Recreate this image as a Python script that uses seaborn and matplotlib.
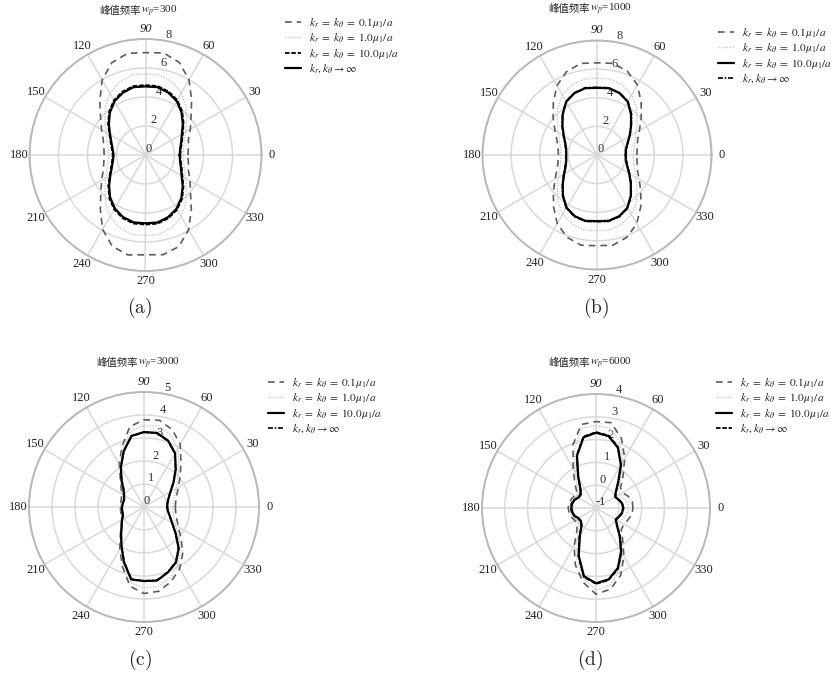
import numpy as np
import matplotlib
matplotlib.use("Agg")
import matplotlib.pyplot as plt
import seaborn as sns

# ---------------- data ----------------
angles_deg = list(range(0, 360, 10))
theta_ticks = list(range(0, 360, 30))

title_cjk = "峰值频率"
title_params = ["$w_p$=300", "$w_p$=1000", "$w_p$=3000", "$w_p$=6000"]
panel_tags = ["(a)", "(b)", "(c)", "(d)"]
series_labels = [r"$k_r\;=\;k_\theta\;=\;0.1\mu_1/a$",
                 r"$k_r\;=\;k_\theta\;=\;1.0\mu_1/a$",
                 r"$k_r\;=\;k_\theta\;=\;10.0\mu_1/a$",
                 r"$k_r, k_\theta \rightarrow \infty$"]

r_ticks_a = [0, 2, 4, 6, 8]
r_ticks_b = [0, 2, 4, 6, 8]
r_ticks_c = [0, 1, 2, 3, 4, 5]
r_ticks_d = [-1, 0, 1, 2, 3, 4]

# panel (a)  w_p = 300
a_k01 = [2.93, 3.0, 3.15, 3.57, 4.1, 4.95, 6.0, 6.8, 7.15, 7.06, 7.12, 6.78,
         5.98, 4.9, 4.05, 3.5, 3.1, 2.92, 2.85, 2.92, 3.1, 3.5, 4.02, 4.85,
         5.92, 6.7, 7.0, 6.88, 6.98, 6.72, 5.95, 4.92, 4.05, 3.55, 3.15, 3.0]
a_k1 = [2.6, 2.68, 2.88, 3.2, 3.7, 4.35, 4.95, 5.35, 5.6, 5.6, 5.6, 5.33,
        4.92, 4.3, 3.65, 3.15, 2.82, 2.62, 2.55, 2.62, 2.82, 3.15, 3.65, 4.3,
        4.9, 5.3, 5.55, 5.55, 5.55, 5.3, 4.92, 4.33, 3.68, 3.18, 2.86, 2.67]
a_k10 = [2.4, 2.48, 2.68, 2.97, 3.43, 3.94, 4.38, 4.66, 4.83, 4.82, 4.83, 4.65,
         4.36, 3.9, 3.37, 2.88, 2.56, 2.36, 2.26, 2.34, 2.53, 2.86, 3.35, 3.88,
         4.33, 4.63, 4.8, 4.8, 4.81, 4.64, 4.36, 3.93, 3.42, 2.94, 2.66, 2.47]
a_kinf = [2.35, 2.43, 2.62, 2.9, 3.36, 3.86, 4.3, 4.58, 4.75, 4.73, 4.75, 4.57,
          4.28, 3.82, 3.3, 2.82, 2.5, 2.3, 2.2, 2.28, 2.47, 2.8, 3.28, 3.8,
          4.25, 4.55, 4.72, 4.71, 4.73, 4.56, 4.28, 3.85, 3.35, 2.88, 2.6, 2.42]

# panel (b)  w_p = 1000
b_k01 = [2.78, 2.85, 3.02, 3.42, 4.03, 4.8, 5.65, 6.22, 6.5, 6.44, 6.5, 6.2,
         5.6, 4.75, 4.0, 3.38, 2.98, 2.76, 2.7, 2.76, 2.98, 3.38, 3.98, 4.72,
         5.55, 6.12, 6.4, 6.34, 6.4, 6.12, 5.55, 4.75, 4.0, 3.4, 3.0, 2.84]
b_k1 = [2.55, 2.62, 2.8, 3.15, 3.65, 4.3, 4.85, 5.2, 5.38, 5.38, 5.38, 5.2,
        4.83, 4.28, 3.63, 3.12, 2.78, 2.58, 2.52, 2.58, 2.78, 3.12, 3.62, 4.25,
        4.78, 5.12, 5.3, 5.3, 5.3, 5.12, 4.8, 4.27, 3.63, 3.13, 2.78, 2.6]
b_k10 = [2.0, 2.04, 2.25, 2.62, 3.1, 3.7, 4.3, 4.6, 4.74, 4.69, 4.74, 4.6,
         4.3, 3.72, 3.15, 2.68, 2.35, 2.18, 2.15, 2.18, 2.33, 2.65, 3.12, 3.7,
         4.25, 4.55, 4.67, 4.62, 4.67, 4.55, 4.25, 3.68, 3.08, 2.6, 2.24, 2.04]
b_kinf = [2.04, 2.08, 2.28, 2.66, 3.14, 3.75, 4.33, 4.63, 4.77, 4.73, 4.77, 4.63,
          4.33, 3.76, 3.19, 2.72, 2.39, 2.22, 2.18, 2.22, 2.37, 2.69, 3.16, 3.74,
          4.29, 4.59, 4.71, 4.66, 4.71, 4.59, 4.29, 3.72, 3.12, 2.64, 2.28, 2.08]

# panel (c)  w_p = 3000
c_k01 = [1.36, 1.4, 1.52, 1.72, 2.05, 2.5, 3.15, 3.58, 3.83, 3.79, 3.55, 2.8,
         2.15, 1.6, 1.3, 1.12, 1.05, 1.03, 1.03, 1.03, 1.05, 1.12, 1.3, 1.6,
         2.1, 2.75, 3.5, 3.76, 3.72, 3.45, 3.1, 2.62, 2.1, 1.72, 1.52, 1.4]
c_k1 = [1.25, 1.3, 1.42, 1.6, 1.92, 2.35, 2.95, 3.35, 3.58, 3.55, 3.35, 2.7,
        2.08, 1.56, 1.25, 1.06, 0.98, 0.98, 1.0, 1.0, 1.0, 1.1, 1.28, 1.57,
        2.03, 2.65, 3.35, 3.52, 3.5, 3.28, 2.95, 2.5, 1.97, 1.58, 1.38, 1.28]
c_k10 = [1.01, 1.04, 1.14, 1.33, 1.68, 2.15, 2.7, 3.07, 3.27, 3.26, 3.14, 2.58,
         2.01, 1.52, 1.16, 1.0, 0.92, 0.93, 0.96, 0.96, 0.97, 1.1, 1.27, 1.55,
         1.96, 2.55, 3.2, 3.22, 3.25, 3.03, 2.78, 2.35, 1.8, 1.42, 1.2, 1.06]
c_kinf = [1.0, 1.03, 1.13, 1.32, 1.67, 2.13, 2.68, 3.05, 3.25, 3.25, 3.12, 2.57,
          2.0, 1.51, 1.15, 0.99, 0.93, 0.95, 0.98, 0.98, 0.98, 1.1, 1.26, 1.54,
          1.95, 2.53, 3.18, 3.21, 3.23, 3.01, 2.76, 2.33, 1.79, 1.41, 1.19, 1.05]

# panel (d)  w_p = 6000
d_k01 = [0.62, 0.62, 0.5, 0.35, 0.4, 0.85, 1.52, 2.25, 2.8, 2.79, 2.72, 1.95,
         1.0, 0.45, 0.1, 0.08, 0.15, 0.2, 0.22, 0.2, 0.15, 0.08, 0.1, 0.3,
         0.92, 1.65, 2.3, 2.78, 2.62, 2.15, 1.45, 0.82, 0.45, 0.42, 0.5, 0.6]
d_k1 = [0.42, 0.4, 0.3, 0.2, 0.3, 0.7, 1.35, 2.05, 2.55, 2.62, 2.55, 1.75,
        0.85, 0.3, 0.02, 0.0, 0.08, 0.14, 0.16, 0.14, 0.08, 0.0, 0.02, 0.2,
        0.65, 1.45, 2.15, 2.6, 2.45, 1.95, 1.32, 0.7, 0.32, 0.22, 0.28, 0.38]
d_k10 = [0.19, 0.16, 0.06, -0.03, 0.14, 0.52, 1.18, 1.81, 2.2, 2.3, 2.15, 1.44,
         0.55, 0.05, -0.12, -0.1, 0.01, 0.07, 0.08, 0.06, 0.0, -0.11, -0.13, -0.02,
         0.42, 1.22, 2.04, 2.3, 2.18, 1.8, 1.2, 0.62, 0.2, 0.0, 0.08, 0.16]
d_kinf = [0.21, 0.17, 0.07, -0.02, 0.16, 0.55, 1.21, 1.84, 2.23, 2.33, 2.18, 1.47,
          0.58, 0.07, -0.1, -0.08, 0.03, 0.09, 0.1, 0.08, 0.02, -0.09, -0.11, 0.0,
          0.45, 1.25, 2.07, 2.33, 2.21, 1.83, 1.23, 0.65, 0.22, 0.02, 0.1, 0.18]

# ---------------- styles ----------------
sns.set_style("whitegrid")
plt.rcParams["font.family"] = ["Liberation Serif", "Noto Sans CJK SC", "DejaVu Sans"]
plt.rcParams["mathtext.fontset"] = "stix"

st_k01 = dict(color="#5c5c5c", linestyle=(0, (4, 3)), linewidth=1.2)
st_k1 = dict(color="#c8c8c8", linestyle=(0, (1, 1)), linewidth=1.0)
st_solid = dict(color="black", linestyle="-", linewidth=1.6)
st_dashdot = dict(color="black", linestyle=(0, (3, 1, 1, 1)), linewidth=1.2)
st_dense = dict(color="black", linestyle=(0, (2.5, 1)), linewidth=1.3)

panels = [
    dict(data=[a_k01, a_k1, a_k10, a_kinf], styles=[st_k01, st_k1, st_dense, st_solid],
         rticks=r_ticks_a, box=(145.5, 155, 116), title_xy=(141, 11),
         tag_xy=(140, 308), leg_xy=(285, 16)),
    dict(data=[b_k01, b_k1, b_k10, b_kinf], styles=[st_k01, st_k1, st_solid, st_dashdot],
         rticks=r_ticks_b, box=(597, 155, 114.5), title_xy=(590, 9),
         tag_xy=(596, 308), leg_xy=(718, 26)),
    dict(data=[c_k01, c_k1, c_k10, c_kinf], styles=[st_k01, st_k1, st_solid, st_dashdot],
         rticks=r_ticks_c, box=(144, 507, 115), title_xy=(138, 363),
         tag_xy=(140, 660), leg_xy=(268, 376)),
    dict(data=[d_k01, d_k1, d_k10, d_kinf], styles=[st_k01, st_k1, st_solid, st_dense],
         rticks=r_ticks_d, box=(596, 508, 114), title_xy=(590, 363),
         tag_xy=(590, 660), leg_xy=(716, 376)),
]

W, H = 834, 677
fig = plt.figure(figsize=(W / 100, H / 100), dpi=100)

theta = np.deg2rad(np.array(angles_deg + [360]))

for i, p in enumerate(panels):
    cx, cy, rad = p["box"]
    ax = fig.add_axes([(cx - rad) / W, 1 - (cy + rad) / H, 2 * rad / W, 2 * rad / H],
                      projection="polar")
    handles = []
    for vals, st, lab in zip(p["data"], p["styles"], series_labels):
        rr = np.array(vals + [vals[0]])
        sns.lineplot(x=theta, y=rr, ax=ax, sort=False, legend=False, label=lab, **st)
        handles.append(ax.lines[-1])
    ax.set_xlabel("")
    ax.set_ylabel("")
    rt = p["rticks"]
    ax.set_ylim(rt[0], rt[-1])
    ax.set_yticks(rt)
    ax.set_yticklabels([str(v) for v in rt], fontsize=9, color="#333333")
    ax.set_rlabel_position(80)
    ax.set_thetagrids(theta_ticks, labels=[str(t) for t in theta_ticks])
    ax.tick_params(axis="x", labelsize=9, colors="#222222", pad=0.5, length=0)
    for lbl in ax.get_xticklabels():
        if lbl.get_text() == "90":
            lbl.set_fontstyle("italic")
    ax.grid(True, color="#d9d9d9", linewidth=1.1)
    ax.spines["polar"].set_color("#b8b8b8")
    ax.spines["polar"].set_linewidth(1.4)
    if ax.get_legend() is not None:
        ax.get_legend().remove()
    lx, ly = p["leg_xy"]
    fig.legend(handles=handles, labels=series_labels, loc="upper left",
               bbox_to_anchor=(lx / W, 1 - ly / H), frameon=False, fontsize=8.2,
               handlelength=1.4, handletextpad=0.7, labelspacing=0.12, borderpad=0,
               borderaxespad=0)
    tx, ty = p["title_xy"]
    fig.text(tx / W, 1 - ty / H, title_cjk, ha="right", va="center", fontsize=7.5,
             color="#222222", family=["Noto Sans CJK SC", "DejaVu Sans"])
    fig.text(tx / W, 1 - ty / H, title_params[i], ha="left", va="center", fontsize=8,
             color="#222222")
    gx, gy = p["tag_xy"]
    fig.text(gx / W, 1 - gy / H, r"$\mathrm{" + panel_tags[i] + "}$", ha="center",
             va="center", fontsize=14, math_fontfamily="cm")

fig.savefig("out.png", dpi=100)
